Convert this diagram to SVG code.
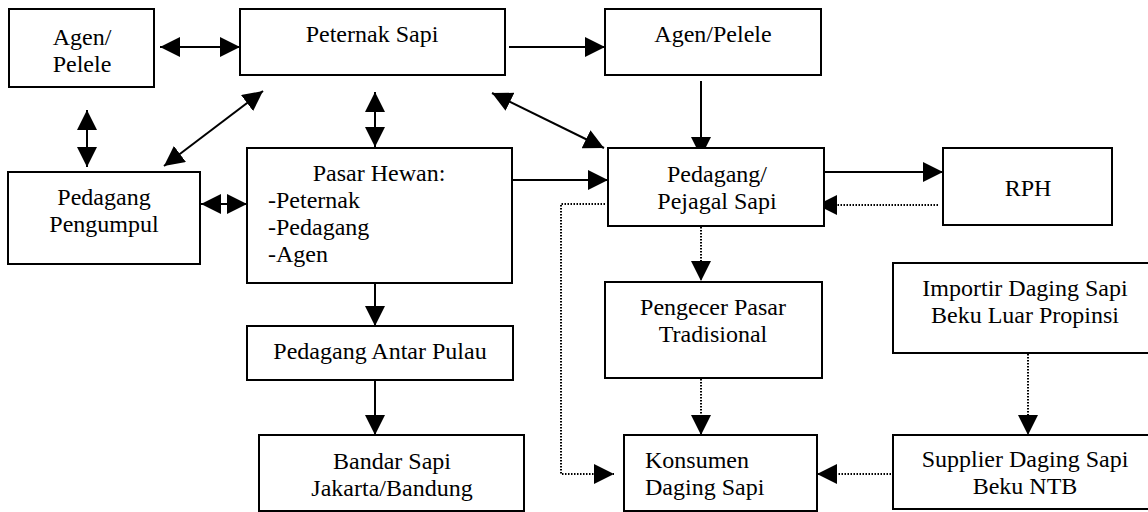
<svg xmlns="http://www.w3.org/2000/svg" width="1148" height="512" viewBox="0 0 1148 512">
<style>
  .box { fill: #ffffff; stroke: #000000; stroke-width: 2; }
  .t { font-family: "Liberation Serif", "Times New Roman", serif; font-size: 24px; fill: #000000; }
  .c { text-anchor: middle; }
  .ln { stroke: #000000; stroke-width: 2; fill: none; }
  .dot { stroke: #000000; stroke-width: 2; fill: none; stroke-dasharray: 1.5 1.5; }
</style>
<defs>
  <marker id="ah" markerUnits="userSpaceOnUse" markerWidth="20" markerHeight="20" viewBox="0 0 20 20" refX="20" refY="10" orient="auto-start-reverse">
    <path d="M0,0 L20,10 L0,20 Z" fill="#000000"/>
  </marker>
</defs>
<rect width="1148" height="512" fill="#ffffff"/>

<g id="connectors">
  <line class="ln" x1="160" y1="47" x2="240" y2="47" marker-start="url(#ah)" marker-end="url(#ah)"/>
  <line class="ln" x1="509" y1="47" x2="605" y2="47" marker-end="url(#ah)"/>
  <line class="ln" x1="701" y1="81" x2="701" y2="157" marker-end="url(#ah)"/>
  <line class="ln" x1="492" y1="93" x2="604" y2="148" marker-start="url(#ah)" marker-end="url(#ah)"/>
  <line class="ln" x1="375" y1="92" x2="375" y2="147" marker-start="url(#ah)" marker-end="url(#ah)"/>
  <line class="ln" x1="87" y1="110" x2="87" y2="167" marker-start="url(#ah)" marker-end="url(#ah)"/>
  <line class="ln" x1="164" y1="166" x2="263" y2="91" marker-start="url(#ah)" marker-end="url(#ah)"/>
  <line class="ln" x1="201" y1="204" x2="247" y2="204" marker-start="url(#ah)" marker-end="url(#ah)"/>
  <line class="ln" x1="512" y1="180" x2="608" y2="180" marker-end="url(#ah)"/>
  <line class="ln" x1="824" y1="172" x2="943" y2="172" marker-end="url(#ah)"/>
  <line class="dot" x1="938" y1="205" x2="817" y2="205" marker-end="url(#ah)"/>
  <line class="dot" x1="701" y1="227" x2="701" y2="281" marker-end="url(#ah)"/>
  <polyline class="dot" points="605,204 561,204 561,474 614,474" marker-end="url(#ah)"/>
  <line class="dot" x1="701" y1="379" x2="701" y2="435" marker-end="url(#ah)"/>
  <line class="dot" x1="891" y1="474" x2="817" y2="474" marker-end="url(#ah)"/>
  <line class="dot" x1="1028" y1="354" x2="1028" y2="435" marker-end="url(#ah)"/>
  <line class="ln" x1="375" y1="284" x2="375" y2="326" marker-end="url(#ah)"/>
  <line class="ln" x1="375" y1="381" x2="375" y2="435" marker-end="url(#ah)"/>
</g>

<g id="agen-pelele-left">
  <rect class="box" x="9" y="9" width="145" height="78"/>
  <text class="t c" x="82" y="45">Agen/</text>
  <text class="t c" x="82" y="72">Pelele</text>
</g>
<g id="peternak-sapi">
  <rect class="box" x="240" y="9" width="265" height="66"/>
  <text class="t c" x="372" y="42">Peternak Sapi</text>
</g>
<g id="agen-pelele-right">
  <rect class="box" x="605" y="9" width="216" height="66"/>
  <text class="t c" x="713" y="42">Agen/Pelele</text>
</g>
<g id="pedagang-pengumpul">
  <rect class="box" x="8" y="172" width="192" height="92"/>
  <text class="t c" x="104" y="205">Pedagang</text>
  <text class="t c" x="104" y="232">Pengumpul</text>
</g>
<g id="pasar-hewan">
  <rect class="box" x="247" y="148" width="265" height="135"/>
  <text class="t c" x="379" y="181">Pasar Hewan:</text>
  <text class="t" x="268" y="208">-Peternak</text>
  <text class="t" x="268" y="235">-Pedagang</text>
  <text class="t" x="268" y="262">-Agen</text>
</g>
<g id="pedagang-pejagal">
  <rect class="box" x="608" y="148" width="216" height="78"/>
  <text class="t c" x="717" y="182">Pedagang/</text>
  <text class="t c" x="717" y="209">Pejagal Sapi</text>
</g>
<g id="rph">
  <rect class="box" x="943" y="148" width="169" height="77"/>
  <text class="t c" x="1028" y="196">RPH</text>
</g>
<g id="pengecer">
  <rect class="box" x="605" y="282" width="217" height="96"/>
  <text class="t c" x="713" y="315">Pengecer Pasar</text>
  <text class="t c" x="713" y="342">Tradisional</text>
</g>
<g id="importir">
  <rect class="box" x="893" y="263" width="264" height="90"/>
  <text class="t c" x="1025" y="296">Importir Daging Sapi</text>
  <text class="t c" x="1025" y="323">Beku Luar Propinsi</text>
</g>
<g id="pedagang-antar-pulau">
  <rect class="box" x="247" y="326" width="266" height="54"/>
  <text class="t c" x="380" y="359">Pedagang Antar Pulau</text>
</g>
<g id="bandar-sapi">
  <rect class="box" x="259" y="435" width="265" height="76"/>
  <text class="t c" x="392" y="469">Bandar Sapi</text>
  <text class="t c" x="392" y="496">Jakarta/Bandung</text>
</g>
<g id="konsumen">
  <rect class="box" x="624" y="435" width="193" height="76"/>
  <text class="t" x="645" y="468">Konsumen</text>
  <text class="t" x="645" y="495">Daging Sapi</text>
</g>
<g id="supplier">
  <rect class="box" x="893" y="435" width="264" height="74"/>
  <text class="t c" x="1025" y="467">Supplier Daging Sapi</text>
  <text class="t c" x="1025" y="494">Beku NTB</text>
</g>
</svg>
